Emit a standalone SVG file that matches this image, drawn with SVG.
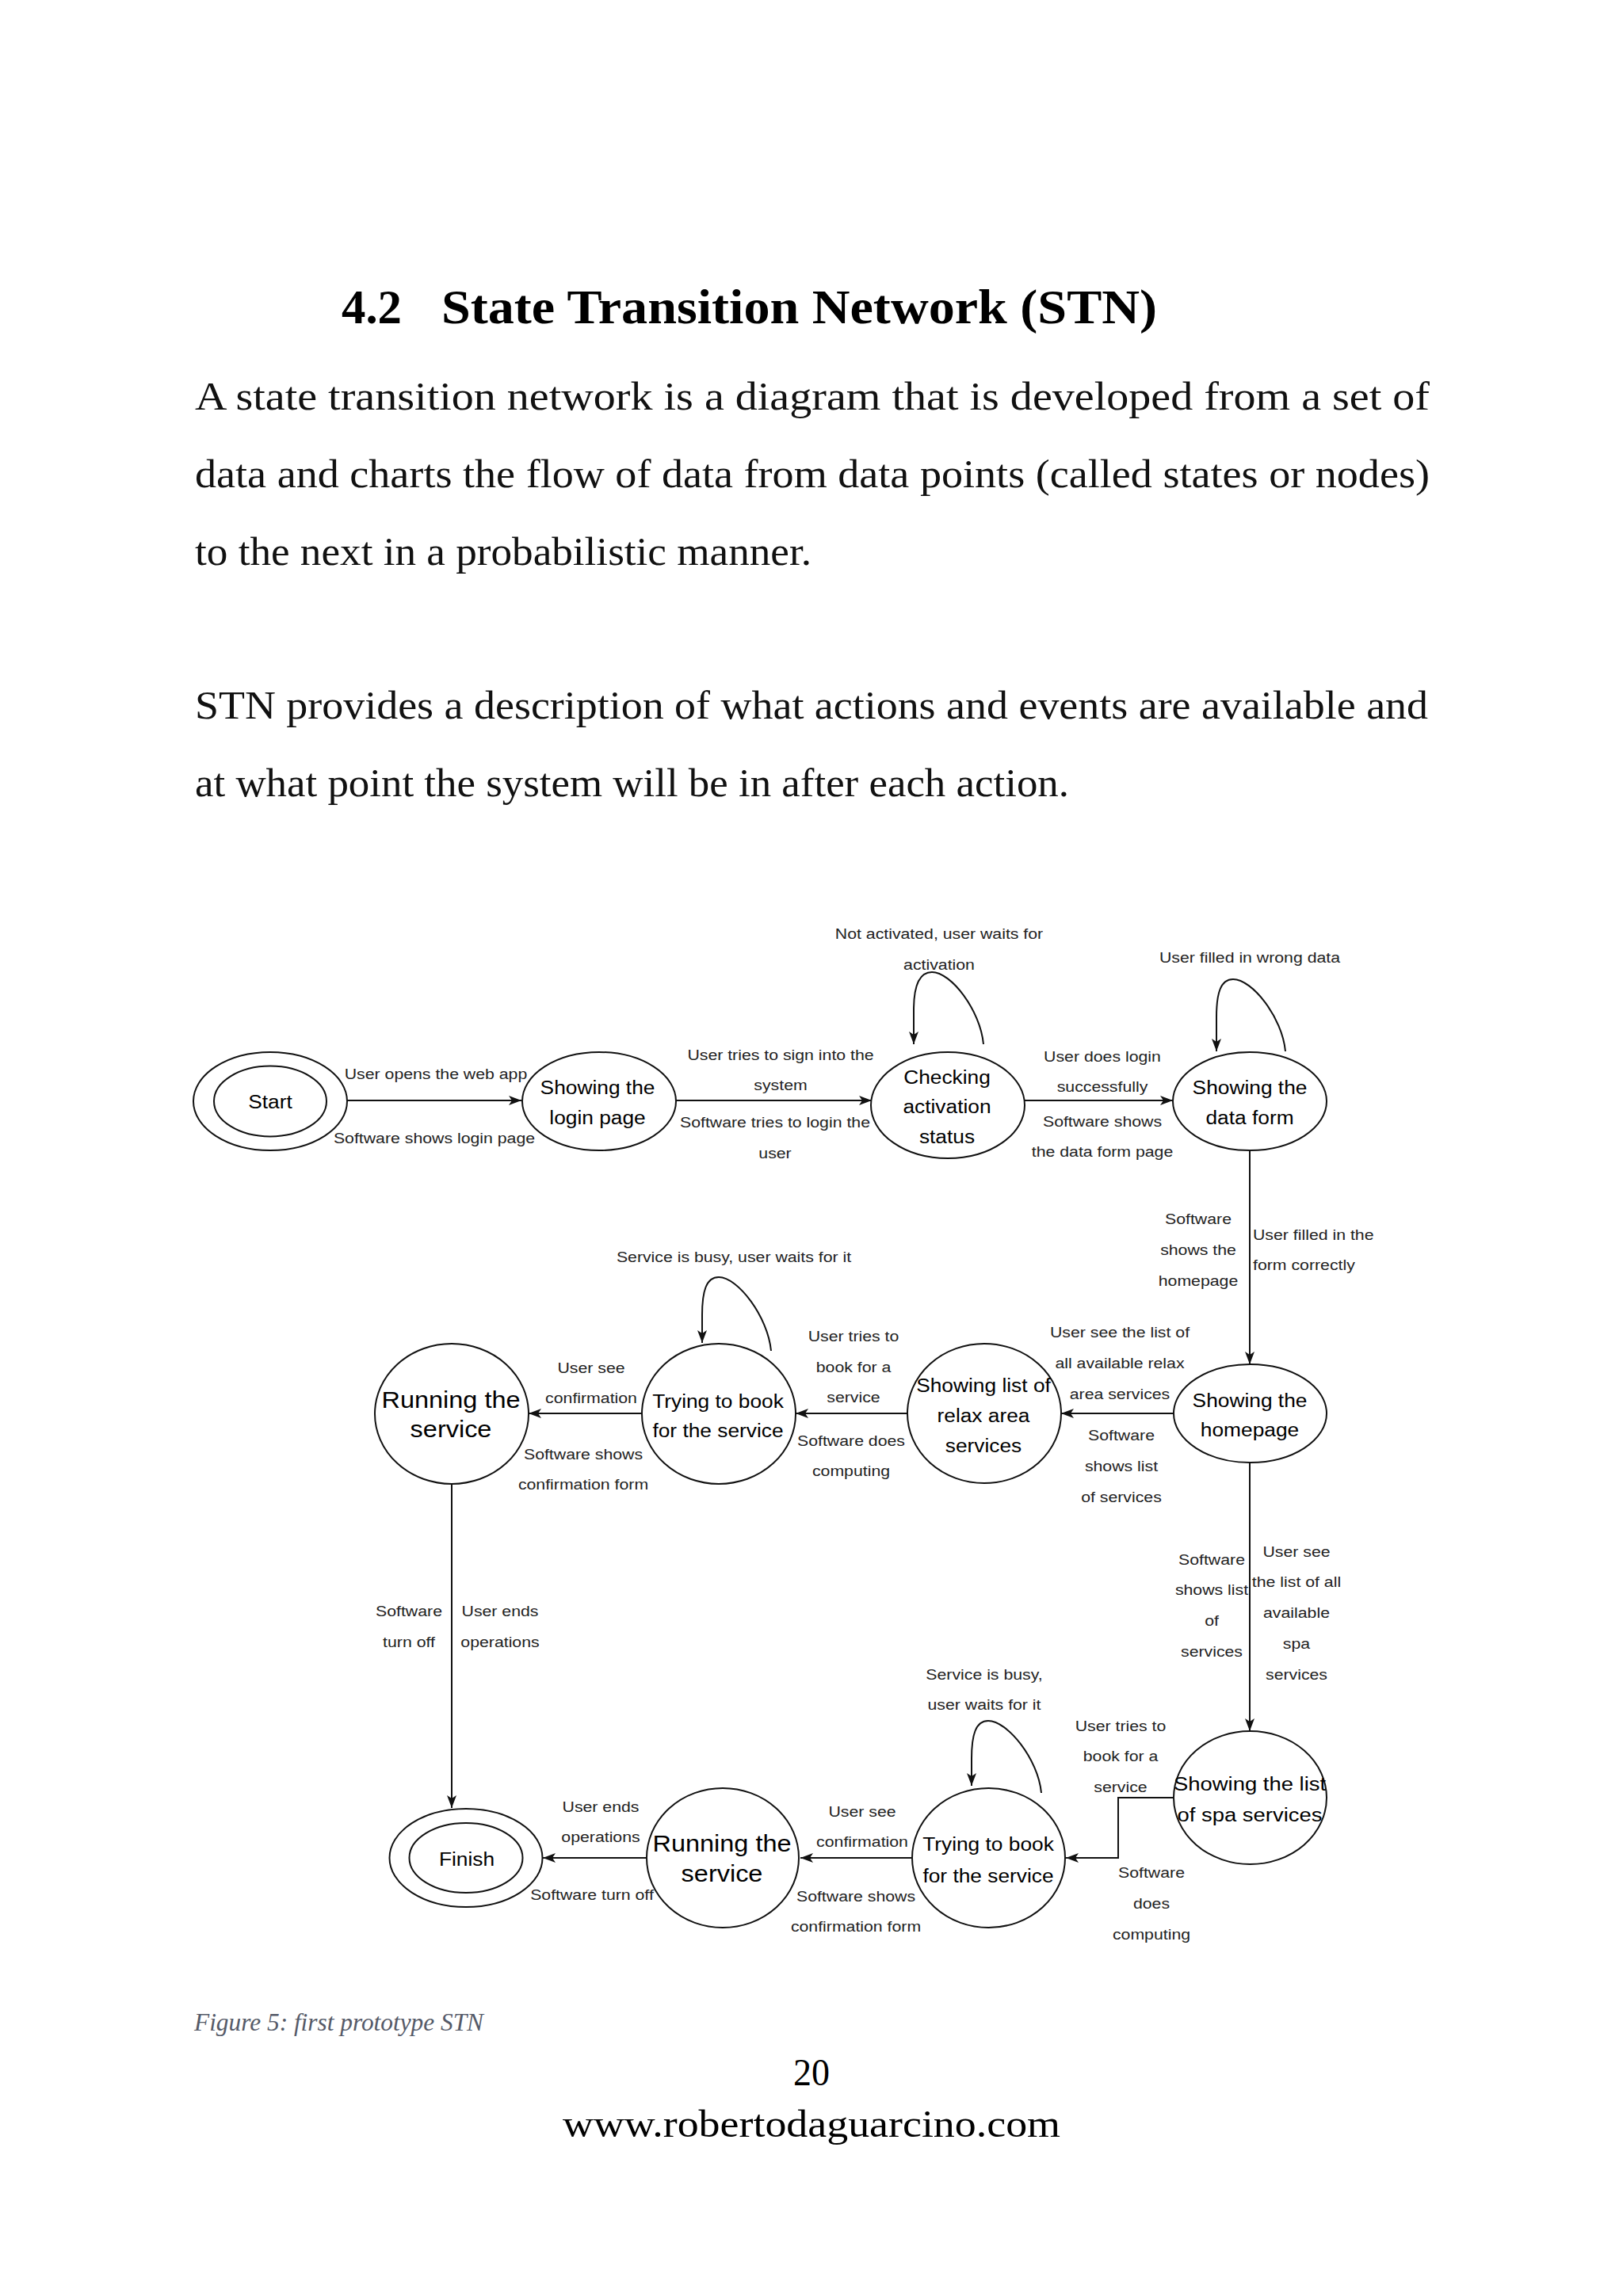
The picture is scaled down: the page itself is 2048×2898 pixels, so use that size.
<svg xmlns="http://www.w3.org/2000/svg" width="2048" height="2898" viewBox="0 0 2048 2898">
<style>
.bg{fill:#fff}
.nd{fill:#fff;stroke:#111;stroke-width:2}
.cn{fill:none;stroke:#111;stroke-width:2;marker-end:url(#ah)}
.lb{font-family:"Liberation Sans",Arial,sans-serif;font-size:19px;fill:#222;text-anchor:middle}
.ls{text-anchor:start}
.nt{font-family:"Liberation Sans",Arial,sans-serif;font-size:23.5px;fill:#000;text-anchor:middle}
.big{font-size:29px}
.mid{font-size:24.5px}
.body{font-family:"Liberation Serif","Times New Roman",serif;font-size:50px;fill:#111}
.title{font-family:"Liberation Serif","Times New Roman",serif;font-size:62px;font-weight:bold;fill:#000}
.cap{font-family:"Liberation Serif","Times New Roman",serif;font-size:32px;font-style:italic;fill:#555a68}
.foot{font-family:"Liberation Serif","Times New Roman",serif;font-size:48px;fill:#000}
</style>
<defs>
<marker id="ah" markerUnits="userSpaceOnUse" markerWidth="18" markerHeight="14" refX="16" refY="6" orient="auto">
<path d="M0,0 L16,6 L0,12 L4,6 Z" fill="#111"/>
</marker>
</defs>
<rect class="bg" x="0" y="0" width="2048" height="2898"/>

<g id="page-text">
<text class="title" x="431" y="408" textLength="76" lengthAdjust="spacingAndGlyphs">4.2</text>
<text class="title" x="557" y="408" textLength="903" lengthAdjust="spacingAndGlyphs">State Transition Network (STN)</text>
<text class="body" x="246" y="517" textLength="1558" lengthAdjust="spacingAndGlyphs">A state transition network is a diagram that is developed from a set of</text>
<text class="body" x="246" y="615" textLength="1558" lengthAdjust="spacingAndGlyphs">data and charts the flow of data from data points (called states or nodes)</text>
<text class="body" x="246" y="713" textLength="778" lengthAdjust="spacingAndGlyphs">to the next in a probabilistic manner.</text>
<text class="body" x="246" y="907" textLength="1556" lengthAdjust="spacingAndGlyphs">STN provides a description of what actions and events are available and</text>
<text class="body" x="246" y="1005" textLength="1103" lengthAdjust="spacingAndGlyphs">at what point the system will be in after each action.</text>
<text class="cap" x="245" y="2563" textLength="365" lengthAdjust="spacingAndGlyphs">Figure 5: first prototype STN</text>
<text class="foot" x="1001" y="2632" textLength="46" lengthAdjust="spacingAndGlyphs">20</text>
<text class="foot" x="710" y="2697" textLength="628" lengthAdjust="spacingAndGlyphs">www.robertodaguarcino.com</text>
</g>

<g id="connectors">
<path class="cn" d="M438,1389 L658,1389"/>
<path class="cn" d="M853,1389 L1100,1389"/>
<path class="cn" d="M1293,1389 L1480,1389"/>
<path class="cn" d="M1577,1452 L1577,1722"/>
<path class="cn" d="M1481,1784 L1339,1784"/>
<path class="cn" d="M1144,1784 L1004,1784"/>
<path class="cn" d="M810,1784 L667,1784"/>
<path class="cn" d="M570,1873 L570,2282"/>
<path class="cn" d="M1577,1846 L1577,2185"/>
<path class="cn" d="M1481,2269 L1411,2269 L1411,2345 L1345,2345"/>
<path class="cn" d="M1150,2345 L1010,2345"/>
<path class="cn" d="M816,2345 L685,2345"/>
<path class="cn" d="M1241,1318 C1237,1275 1200,1227 1176,1227 C1160,1227 1153,1245 1153,1275 L1153,1318"/>
<path class="cn" d="M1622,1327 C1618,1284 1580,1236 1556,1236 C1540,1236 1535,1254 1535,1284 L1535,1327"/>
<path class="cn" d="M973,1705 C969,1662 931,1612 907,1612 C891,1612 886,1630 886,1660 L886,1695"/>
<path class="cn" d="M1314,2263 C1310,2220 1271,2172 1247,2172 C1231,2172 1226,2190 1226,2220 L1226,2254"/>
</g>

<g id="labels">
<text class="lb" transform="matrix(1.12 0 0 1 550 1362)">User opens the web app</text>
<text class="lb" transform="matrix(1.12 0 0 1 548 1443)">Software shows login page</text>
<text class="lb" transform="matrix(1.12 0 0 1 985 1338)"><tspan x="0">User tries to sign into the</tspan><tspan x="0" dy="38">system</tspan></text>
<text class="lb" transform="matrix(1.12 0 0 1 978 1423)"><tspan x="0">Software tries to login the</tspan><tspan x="0" dy="39">user</tspan></text>
<text class="lb" transform="matrix(1.12 0 0 1 1185 1185)"><tspan x="0">Not activated, user waits for</tspan><tspan x="0" dy="39">activation</tspan></text>
<text class="lb" transform="matrix(1.12 0 0 1 1391 1340)"><tspan x="0">User does login</tspan><tspan x="0" dy="38">successfully</tspan><tspan x="0" dy="44">Software shows</tspan><tspan x="0" dy="38">the data form page</tspan></text>
<text class="lb" transform="matrix(1.12 0 0 1 1577 1215)">User filled in wrong data</text>
<text class="lb" transform="matrix(1.12 0 0 1 1512 1545)"><tspan x="0">Software</tspan><tspan x="0" dy="39">shows the</tspan><tspan x="0" dy="39">homepage</tspan></text>
<text class="lb ls" transform="matrix(1.12 0 0 1 1581 1565)"><tspan x="0">User filled in the</tspan><tspan x="0" dy="38">form correctly</tspan></text>
<text class="lb" transform="matrix(1.12 0 0 1 926 1593)">Service is busy, user waits for it</text>
<text class="lb" transform="matrix(1.12 0 0 1 1077 1693)"><tspan x="0">User tries to</tspan><tspan x="0" dy="39">book for a</tspan><tspan x="0" dy="38">service</tspan></text>
<text class="lb" transform="matrix(1.12 0 0 1 1413 1688)"><tspan x="0">User see the list of</tspan><tspan x="0" dy="39">all available relax</tspan><tspan x="0" dy="39">area services</tspan></text>
<text class="lb" transform="matrix(1.12 0 0 1 1415 1818)"><tspan x="0">Software</tspan><tspan x="0" dy="39">shows list</tspan><tspan x="0" dy="39">of services</tspan></text>
<text class="lb" transform="matrix(1.12 0 0 1 746 1733)"><tspan x="0">User see</tspan><tspan x="0" dy="38">confirmation</tspan></text>
<text class="lb" transform="matrix(1.12 0 0 1 736 1842)"><tspan x="0">Software shows</tspan><tspan x="0" dy="38">confirmation form</tspan></text>
<text class="lb" transform="matrix(1.12 0 0 1 1074 1825)"><tspan x="0">Software does</tspan><tspan x="0" dy="38">computing</tspan></text>
<text class="lb" transform="matrix(1.12 0 0 1 516 2040)"><tspan x="0">Software</tspan><tspan x="0" dy="39">turn off</tspan></text>
<text class="lb" transform="matrix(1.12 0 0 1 631 2040)"><tspan x="0">User ends</tspan><tspan x="0" dy="39">operations</tspan></text>
<text class="lb" transform="matrix(1.12 0 0 1 1529 1975)"><tspan x="0">Software</tspan><tspan x="0" dy="38">shows list</tspan><tspan x="0" dy="39">of</tspan><tspan x="0" dy="39">services</tspan></text>
<text class="lb" transform="matrix(1.12 0 0 1 1636 1965)"><tspan x="0">User see</tspan><tspan x="0" dy="38">the list of all</tspan><tspan x="0" dy="39">available</tspan><tspan x="0" dy="39">spa</tspan><tspan x="0" dy="39">services</tspan></text>
<text class="lb" transform="matrix(1.12 0 0 1 1242 2120)"><tspan x="0">Service is busy,</tspan><tspan x="0" dy="38">user waits for it</tspan></text>
<text class="lb" transform="matrix(1.12 0 0 1 1414 2185)"><tspan x="0">User tries to</tspan><tspan x="0" dy="38">book for a</tspan><tspan x="0" dy="39">service</tspan></text>
<text class="lb" transform="matrix(1.12 0 0 1 1453 2370)"><tspan x="0">Software</tspan><tspan x="0" dy="39">does</tspan><tspan x="0" dy="39">computing</tspan></text>
<text class="lb" transform="matrix(1.12 0 0 1 758 2287)"><tspan x="0">User ends</tspan><tspan x="0" dy="38">operations</tspan></text>
<text class="lb" transform="matrix(1.12 0 0 1 747 2398)">Software turn off</text>
<text class="lb" transform="matrix(1.12 0 0 1 1088 2293)"><tspan x="0">User see</tspan><tspan x="0" dy="38">confirmation</tspan></text>
<text class="lb" transform="matrix(1.12 0 0 1 1080 2400)"><tspan x="0">Software shows</tspan><tspan x="0" dy="38">confirmation form</tspan></text>
</g>

<g id="n-start">
<ellipse class="nd" cx="341" cy="1390" rx="97" ry="62"/>
<ellipse class="nd" cx="341" cy="1390" rx="71" ry="44.5"/>
<text class="nt" transform="matrix(1.12 0 0 1 341 1399)">Start</text>
</g>
<g id="n-login">
<ellipse class="nd" cx="756" cy="1390" rx="97" ry="62"/>
<text class="nt" transform="matrix(1.12 0 0 1 754 1381)"><tspan x="0">Showing the</tspan><tspan x="0" dy="38">login page</tspan></text>
</g>
<g id="n-checking">
<ellipse class="nd" cx="1196" cy="1395" rx="97" ry="67"/>
<text class="nt" transform="matrix(1.12 0 0 1 1195 1368)"><tspan x="0">Checking</tspan><tspan x="0" dy="37">activation</tspan><tspan x="0" dy="38">status</tspan></text>
</g>
<g id="n-dataform">
<ellipse class="nd" cx="1577" cy="1390" rx="97" ry="62"/>
<text class="nt" transform="matrix(1.12 0 0 1 1577 1381)"><tspan x="0">Showing the</tspan><tspan x="0" dy="38">data form</tspan></text>
</g>
<g id="n-homepage">
<ellipse class="nd" cx="1577.5" cy="1784" rx="96.5" ry="62"/>
<text class="nt" transform="matrix(1.12 0 0 1 1577 1776)"><tspan x="0">Showing the</tspan><tspan x="0" dy="37">homepage</tspan></text>
</g>
<g id="n-relax">
<ellipse class="nd" cx="1242" cy="1784" rx="97" ry="88"/>
<text class="nt" transform="matrix(1.12 0 0 1 1241 1757)"><tspan x="0">Showing list of</tspan><tspan x="0" dy="38">relax area</tspan><tspan x="0" dy="38">services</tspan></text>
</g>
<g id="n-trying1">
<ellipse class="nd" cx="907" cy="1784.5" rx="97" ry="88.5"/>
<text class="nt" transform="matrix(1.12 0 0 1 906 1777)"><tspan x="0">Trying to book</tspan><tspan x="0" dy="37">for the service</tspan></text>
</g>
<g id="n-running1">
<ellipse class="nd" cx="570" cy="1784.5" rx="97" ry="88.5"/>
<text class="nt big" transform="matrix(1.12 0 0 1 569 1777)"><tspan x="0">Running the</tspan><tspan x="0" dy="37">service</tspan></text>
</g>
<g id="n-spa">
<ellipse class="nd" cx="1577.5" cy="2269" rx="96.5" ry="84"/>
<text class="nt mid" transform="matrix(1.12 0 0 1 1577 2260)"><tspan x="0">Showing the list</tspan><tspan x="0" dy="39">of spa services</tspan></text>
</g>
<g id="n-trying2">
<ellipse class="nd" cx="1247.5" cy="2345" rx="96.5" ry="88"/>
<text class="nt" transform="matrix(1.12 0 0 1 1247 2336)"><tspan x="0">Trying to book</tspan><tspan x="0" dy="40">for the service</tspan></text>
</g>
<g id="n-running2">
<ellipse class="nd" cx="912" cy="2345" rx="96" ry="88"/>
<text class="nt big" transform="matrix(1.12 0 0 1 911 2337)"><tspan x="0">Running the</tspan><tspan x="0" dy="38">service</tspan></text>
</g>
<g id="n-finish">
<ellipse class="nd" cx="588" cy="2345" rx="96.5" ry="62"/>
<ellipse class="nd" cx="588" cy="2345" rx="71.5" ry="44"/>
<text class="nt" transform="matrix(1.12 0 0 1 589 2355)">Finish</text>
</g>
</svg>
